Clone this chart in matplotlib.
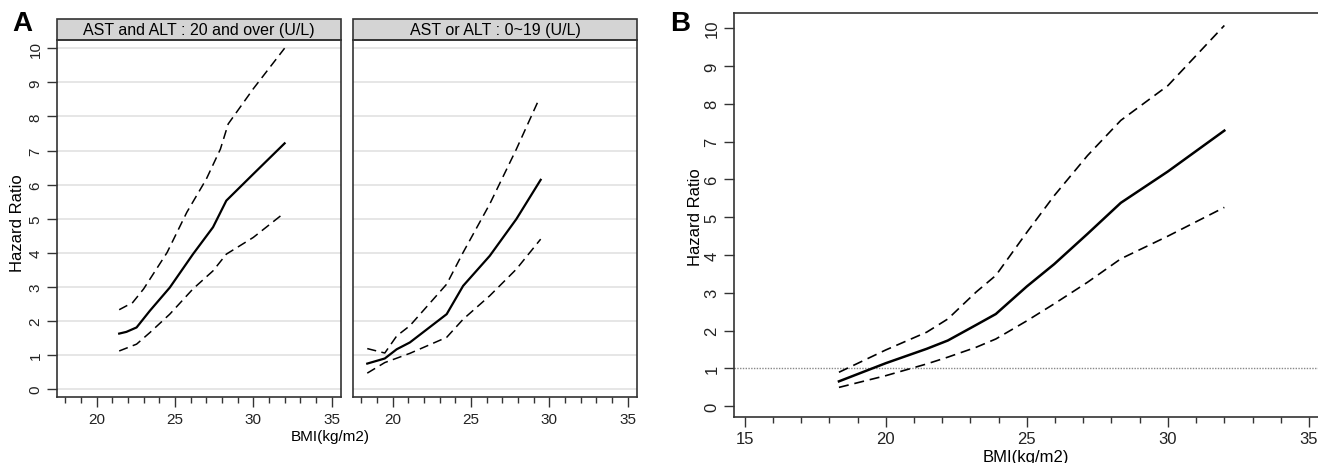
import numpy as np
import matplotlib
matplotlib.use("Agg")
import matplotlib.pyplot as plt
from matplotlib.patches import Rectangle
from matplotlib.ticker import MultipleLocator

plt.rcParams['font.family'] = ['Liberation Sans', 'DejaVu Sans']

# Panel A, left facet: AST and ALT : 20 and over (U/L)
a1_x = [21.44, 21.9, 22.55, 23.4, 24.67, 26.15, 27.43, 28.28, 30.0, 32.0]
a1_hr = [1.63, 1.68, 1.81, 2.30, 2.98, 3.96, 4.75, 5.53, 6.31, 7.21]
a1_up_x = [21.44, 22.3, 23.0, 24.5, 25.76, 27.0, 27.9, 28.4, 30.0, 32.0]
a1_up = [2.33, 2.54, 2.94, 4.01, 5.19, 6.16, 7.04, 7.78, 8.81, 10.0]
a1_lo_x = [21.44, 22.55, 23.4, 24.67, 26.15, 27.43, 28.28, 30.0, 31.9]
a1_lo = [1.12, 1.32, 1.66, 2.20, 2.94, 3.47, 3.96, 4.45, 5.14]

# Panel A, right facet: AST or ALT : 0~19 (U/L)
a2_x = [18.38, 19.5, 20.26, 21.1, 23.45, 24.5, 26.2, 27.9, 29.45]
a2_hr = [0.75, 0.90, 1.17, 1.37, 2.20, 3.03, 3.91, 4.99, 6.14]
a2_up_x = [18.38, 19.5, 20.26, 21.1, 23.45, 24.5, 26.2, 27.9, 29.35]
a2_up = [1.19, 1.06, 1.56, 1.86, 3.08, 4.01, 5.43, 7.04, 8.51]
a2_lo_x = [18.38, 19.5, 21.1, 23.45, 24.5, 26.2, 27.9, 29.45]
a2_lo = [0.47, 0.78, 1.05, 1.52, 2.05, 2.74, 3.52, 4.40]

facet_titles = ["AST and ALT : 20 and over (U/L)", "AST or ALT : 0~19 (U/L)"]

# Panel B: overall
b_x = [18.34, 20.0, 21.45, 22.2, 23.2, 23.9, 25.0, 25.97, 27.15, 28.33, 30.0, 32.0]
b_hr = [0.66, 1.14, 1.52, 1.74, 2.15, 2.44, 3.17, 3.76, 4.56, 5.38, 6.21, 7.29]
b_up = [0.90, 1.49, 1.96, 2.31, 3.02, 3.46, 4.60, 5.57, 6.63, 7.56, 8.48, 10.07]
b_lo = [0.50, 0.81, 1.12, 1.30, 1.56, 1.78, 2.26, 2.71, 3.28, 3.90, 4.50, 5.26]

W, H = 1318, 464
fig = plt.figure(figsize=(W / 100, H / 100), dpi=100)

dash = (0, (6, 3.5))


def px(l, t, r, b):
    return [l / W, 1 - b / H, (r - l) / W, (b - t) / H]


def style_ticks(ax, fs):
    ax.xaxis.set_major_locator(MultipleLocator(5))
    ax.xaxis.set_minor_locator(MultipleLocator(1))
    ax.yaxis.set_major_locator(MultipleLocator(1))
    ax.tick_params(axis='both', which='major', length=7, width=1, labelsize=fs,
                   direction='out', color='#333333', labelcolor='#222222')
    ax.tick_params(axis='x', which='minor', length=4, width=1, color='#333333')
    for lab in ax.get_yticklabels():
        lab.set_rotation(90)
        lab.set_va('center')


# ---- Panel A ----
facets = [
    (a1_x, a1_hr, a1_up_x, a1_up, a1_lo_x, a1_lo),
    (a2_x, a2_hr, a2_up_x, a2_up, a2_lo_x, a2_lo),
]
lefts = [57, 353]
for i, (x, hr, ux, up, lx, lo) in enumerate(facets):
    ax = fig.add_axes(px(lefts[i], 40.7, lefts[i] + 284, 398))
    ax.set_xlim(17.47, 35.6)
    ax.set_ylim(-0.23, 10.25)
    for v in range(0, 11):
        ax.axhline(v, color='#e2e2e2', lw=1.2, zorder=0)
    ax.plot(x, hr, color='black', lw=1.6)
    ax.plot(ux, up, color='black', lw=1.1, linestyle=dash)
    ax.plot(lx, lo, color='black', lw=1.1, linestyle=dash)
    style_ticks(ax, 11)
    ax.set_yticks(range(0, 11))
    ax.set_xticks([20, 25, 30, 35])
    for lab in ax.get_yticklabels():
        lab.set_rotation(90)
        lab.set_va('center')
    if i == 1:
        ax.tick_params(axis='y', left=False, labelleft=False)
    for s in ax.spines.values():
        s.set_color('#333333')
        s.set_linewidth(1.2)
    strip_h = 20.7 / (398 - 40.7)
    ax.add_patch(Rectangle((0, 1), 1, strip_h, transform=ax.transAxes,
                           facecolor='#d4d4d4', edgecolor='#333333', lw=1.2,
                           clip_on=False))
    ax.text(0.5, 1 + strip_h / 2, facet_titles[i], transform=ax.transAxes,
            ha='center', va='center', fontsize=11.5)

fig.text(330 / W, 1 - 437 / H, "BMI(kg/m2)", ha='center', va='center', fontsize=11)
fig.text(18 / W, 1 - 223 / H, "Hazard Ratio", ha='center', va='center',
         rotation=90, fontsize=12)
fig.text(22 / W, 1 - 24 / H, "A", ha='center', va='center', fontsize=20,
         fontweight='bold')

# ---- Panel B ----
axb = fig.add_axes(px(734, 14, 1318, 417.7))
axb.set_xlim(14.62, 35.32)
axb.set_ylim(-0.275, 10.4)
axb.axhline(1, color='#888888', lw=1, linestyle=(0, (1, 1)))
axb.plot(b_x, b_hr, color='black', lw=1.8)
axb.plot(b_x, b_up, color='black', lw=1.2, linestyle=dash)
axb.plot(b_x, b_lo, color='black', lw=1.2, linestyle=dash)
axb.set_xticks([15, 20, 25, 30, 35])
axb.set_yticks(range(0, 11))
style_ticks(axb, 12)
axb.spines['right'].set_visible(False)
for s in axb.spines.values():
    s.set_color('#333333')
    s.set_linewidth(1.2)
axb.set_xlabel("BMI(kg/m2)", fontsize=12, labelpad=2)
fig.text(696 / W, 1 - 217 / H, "Hazard Ratio", ha='center', va='center',
         rotation=90, fontsize=12)
fig.text(680 / W, 1 - 24 / H, "B", ha='center', va='center', fontsize=20,
         fontweight='bold')

fig.savefig("out.png", dpi=100)
